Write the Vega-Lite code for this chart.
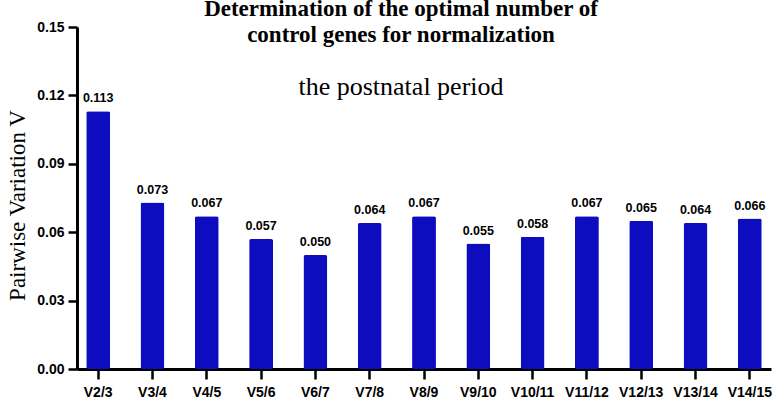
{
  "$schema": "https://vega.github.io/schema/vega-lite/v6.json",
  "autosize": "none",
  "width": 694,
  "height": 342,
  "padding": {"left": 77, "top": 27, "right": 8, "bottom": 36},
  "background": "white",
  "title": {
    "text": ["Determination of the optimal number of", "control genes for normalization"],
    "subtitle": "the postnatal period",
    "font": "Liberation Serif",
    "fontWeight": "bold",
    "fontSize": 23,
    "lineHeight": 26,
    "color": "black",
    "subtitleFont": "Liberation Serif",
    "subtitleFontSize": 26,
    "subtitleColor": "black",
    "subtitlePadding": 27,
    "anchor": "middle",
    "frame": "group",
    "dx": -23,
    "offset": -80
  },
  "data": {
    "values": [
      {"pair": "V2/3", "v": 0.113},
      {"pair": "V3/4", "v": 0.073},
      {"pair": "V4/5", "v": 0.067},
      {"pair": "V5/6", "v": 0.057},
      {"pair": "V6/7", "v": 0.050},
      {"pair": "V7/8", "v": 0.064},
      {"pair": "V8/9", "v": 0.067},
      {"pair": "V9/10", "v": 0.055},
      {"pair": "V10/11", "v": 0.058},
      {"pair": "V11/12", "v": 0.067},
      {"pair": "V12/13", "v": 0.065},
      {"pair": "V13/14", "v": 0.064},
      {"pair": "V14/15", "v": 0.066}
    ]
  },
  "encoding": {
    "x": {
      "field": "pair",
      "type": "nominal",
      "sort": null,
      "scale": {"paddingInner": 0.56, "paddingOuter": 0.17},
      "axis": {
        "title": null,
        "labelAngle": 0,
        "labelFont": "Liberation Sans",
        "labelFontWeight": "bold",
        "labelFontSize": 14,
        "labelColor": "black",
        "labelPadding": 6,
        "tickSize": 10,
        "tickWidth": 2.5,
        "tickColor": "black",
        "domainWidth": 3,
        "domainColor": "black"
      }
    },
    "y": {
      "field": "v",
      "type": "quantitative",
      "scale": {"domain": [0, 0.15], "nice": false},
      "axis": {
        "title": "Pairwise Variation V",
        "titleFont": "Liberation Serif",
        "titleFontWeight": "normal",
        "titleFontSize": 23,
        "titleColor": "black",
        "titlePadding": 7,
        "titleY": 178,
        "values": [0, 0.03, 0.06, 0.09, 0.12, 0.15],
        "format": ".2f",
        "grid": false,
        "labelFont": "Liberation Sans",
        "labelFontWeight": "bold",
        "labelFontSize": 14,
        "labelColor": "black",
        "labelPadding": 4,
        "tickSize": 9,
        "tickWidth": 2.5,
        "tickColor": "black",
        "domainWidth": 3,
        "domainColor": "black"
      }
    }
  },
  "layer": [
    {"mark": {"type": "bar", "color": "#0D0DBF", "cornerRadius": 2}},
    {
      "mark": {"type": "text", "font": "Liberation Sans", "fontWeight": "bold", "fontSize": 12.5, "baseline": "alphabetic", "dy": -9, "color": "black"},
      "encoding": {"text": {"field": "v", "type": "quantitative", "format": ".3f"}}
    }
  ],
  "config": {"view": {"stroke": null}}
}
